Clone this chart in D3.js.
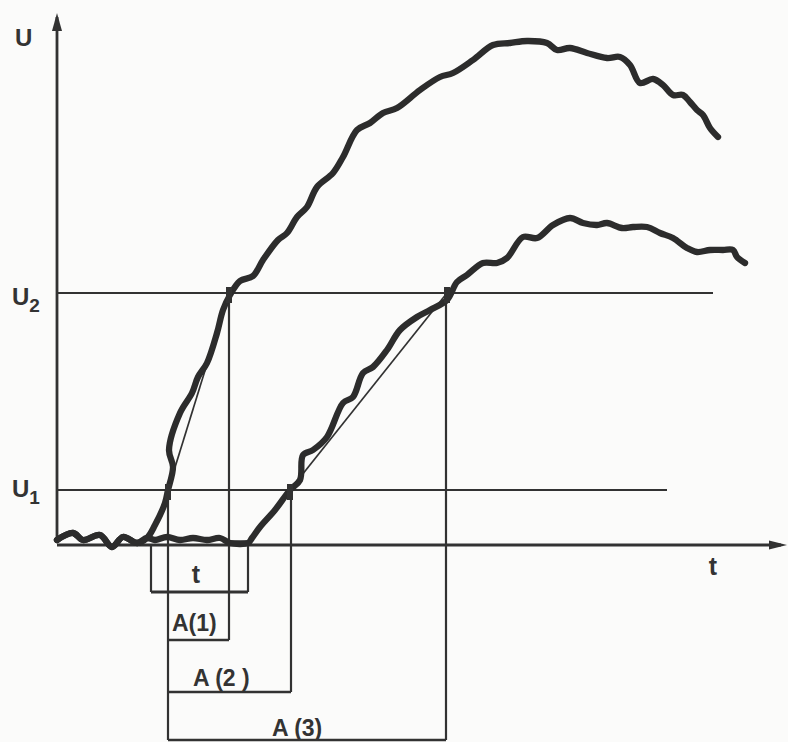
<!DOCTYPE html>
<html>
<head>
<meta charset="utf-8">
<script src="https://cdn.jsdelivr.net/npm/d3@7"></script>
<style>
  html, body { margin: 0; padding: 0; background: #fbfbfa; }
  svg { display: block; }
  text { font-family: "Liberation Sans", Arial, Helvetica, sans-serif; fill: #333; font-weight: bold; }
</style>
</head>
<body>
<svg id="chart" width="788" height="742"></svg>
<script>
// ---- data (time t, voltage U in arbitrary units) ----
const thresholdU1 = 5.5;
const thresholdU2 = 25.2;

// fast-rising response (curve 1)
const curve1T = [0.0,1.6,2.6,4.3,5.5,6.6,8.0,9.0,9.8,10.8,11.1,11.6,11.2,12.3,13.5,14.1,15.0,16.0,16.6,17.3,18.3,19.6,20.6,22.1,23.0,24.0,25.0,26.0,27.6,28.6,30.0,31.3,32.6,34.0,36.3,38.3,39.6,41.6,43.6,45.3,47.0,49.0,50.0,51.3,53.0,55.0,56.3,57.3,58.3,59.6,60.6,61.6,62.6,63.3,64.0,64.6,65.3,66.1];
const curve1U = [0.5,1.2,0.5,1.0,-0.2,0.8,0.2,0.7,2.0,4.2,5.5,7.8,9.5,13.2,15.2,16.8,18.2,21.2,23.5,25.0,26.4,26.9,28.5,30.5,31.2,32.8,33.8,35.8,37.2,38.8,41.5,42.2,43.2,43.7,45.5,46.8,47.2,48.5,50.0,50.2,50.4,50.2,49.5,49.7,49.2,48.7,48.8,48.0,46.2,46.6,46.0,45.0,45.0,44.3,43.5,43.0,41.7,40.8];

// slow-rising response (curve 2)
const curve2T = [0.0,1.6,2.6,4.3,5.5,6.6,8.0,9.0,9.8,11.0,12.3,13.6,15.0,16.3,17.3,19.1,19.5,20.3,21.8,23.3,24.3,24.6,25.6,27.0,28.6,29.6,30.6,31.6,33.0,34.3,36.0,37.3,39.0,40.0,41.0,42.6,44.0,45.0,46.6,48.0,49.6,51.3,52.6,54.0,55.0,56.5,57.6,59.0,60.3,61.6,63.0,64.0,65.3,66.6,67.6,68.0,68.8];
const curve2U = [0.5,1.2,0.5,1.0,-0.2,0.8,0.2,0.7,0.5,0.8,0.5,0.7,0.5,0.7,0.2,0.2,0.7,1.8,3.5,5.5,6.5,9.0,9.5,10.8,14.2,14.8,17.2,17.8,19.5,21.5,22.8,23.5,24.5,26.3,27.0,28.2,28.2,28.7,30.8,30.7,32.0,32.7,32.2,32.0,32.2,31.7,31.8,31.8,31.2,30.7,29.7,29.3,29.5,29.5,29.5,28.8,28.2];

// crossing times (threshold U1 / U2)
const crossT1 = [11.1, 23.3];
const crossT2 = [17.2, 39.0];
// dead time interval t
const deadTime = [9.4, 19.1];
// interval labels
const intervalLabels = ["A(1)", "A (2 )", "A (3)"];
const intervalStart = [11.1, 11.1, 11.1];
const intervalEnd = [17.2, 23.4, 38.9];
const intervalLevel = [-9.5, -14.7, -19.5];
const deadTimeLevel = -4.7;

const tMax = 73, uMax = 53;
const uLine1End = 61.0, uLine2End = 65.6;

// ---- scales ----
const x = d3.scaleLinear().domain([0, tMax]).range([57, 787]);
const y = d3.scaleLinear().domain([0, uMax]).range([545, 15]);

const svg = d3.select("#chart");
const ink = "#323232";

// threshold lines
svg.append("line").attr("x1", x(0)).attr("x2", x(uLine2End))
  .attr("y1", y(thresholdU2)).attr("y2", y(thresholdU2))
  .attr("stroke", ink).attr("stroke-width", 2.2);
svg.append("line").attr("x1", x(0)).attr("x2", x(uLine1End))
  .attr("y1", y(thresholdU1)).attr("y2", y(thresholdU1))
  .attr("stroke", ink).attr("stroke-width", 2.2);

// axes
svg.append("line").attr("x1", x(0)).attr("x2", x(0))
  .attr("y1", y(0.2)).attr("y2", y(uMax) + 2)
  .attr("stroke", ink).attr("stroke-width", 2.8);
svg.append("path")
  .attr("d", `M${x(0)},${y(uMax) - 2} L${x(0) - 5},${y(uMax) + 16} L${x(0) + 5},${y(uMax) + 16} Z`)
  .attr("fill", ink);
svg.append("line").attr("x1", x(0)).attr("x2", x(tMax) - 6)
  .attr("y1", y(0)).attr("y2", y(0))
  .attr("stroke", ink).attr("stroke-width", 2.8);
svg.append("path")
  .attr("d", `M${x(tMax)},${y(0)} L${x(tMax) - 18},${y(0) - 4.5} L${x(tMax) - 18},${y(0) + 4.5} Z`)
  .attr("fill", ink);

// vertical guide lines from crossings downwards
const guides = [
  {t: crossT1[0], u0: thresholdU1, u1: intervalLevel[2]},
  {t: crossT2[0], u0: thresholdU2, u1: intervalLevel[0]},
  {t: intervalEnd[1], u0: thresholdU1, u1: intervalLevel[1]},
  {t: intervalEnd[2], u0: thresholdU2, u1: intervalLevel[2]},
  {t: deadTime[0], u0: 0, u1: deadTimeLevel},
  {t: deadTime[1], u0: 0, u1: deadTimeLevel}
];
svg.selectAll("line.guide").data(guides).join("line").attr("class", "guide")
  .attr("x1", d => x(d.t)).attr("x2", d => x(d.t))
  .attr("y1", d => y(d.u0)).attr("y2", d => y(d.u1))
  .attr("stroke", ink).attr("stroke-width", 2.2);

// horizontal bottoms of the interval boxes
svg.selectAll("line.ibar").data(intervalLabels.map((l, i) => ({i}))).join("line").attr("class", "ibar")
  .attr("x1", d => x(intervalStart[d.i])).attr("x2", d => x(intervalEnd[d.i]))
  .attr("y1", d => y(intervalLevel[d.i])).attr("y2", d => y(intervalLevel[d.i]))
  .attr("stroke", ink).attr("stroke-width", 2.6);
svg.append("line")
  .attr("x1", x(deadTime[0])).attr("x2", x(deadTime[1]))
  .attr("y1", y(deadTimeLevel)).attr("y2", y(deadTimeLevel))
  .attr("stroke", ink).attr("stroke-width", 2.8);

// secant lines U1 -> U2
[0, 1].forEach(i => {
  svg.append("line")
    .attr("x1", x(crossT1[i])).attr("y1", y(thresholdU1))
    .attr("x2", x(crossT2[i])).attr("y2", y(thresholdU2))
    .attr("stroke", ink).attr("stroke-width", 1.7);
});

// curves
const line = d3.line().x(d => x(d[0])).y(d => y(d[1])).curve(d3.curveCatmullRom.alpha(0.5));
const c1 = curve1T.map((t, i) => [t, curve1U[i]]);
const c2 = curve2T.map((t, i) => [t, curve2U[i]]);
[c2, c1].forEach(c => {
  svg.append("path").datum(c).attr("d", line)
    .attr("fill", "none").attr("stroke", "#2c2c2c")
    .attr("stroke-width", 6.3).attr("stroke-linejoin", "round").attr("stroke-linecap", "round");
});
// flat segment before slow rise
svg.append("line").attr("x1", x(17.3)).attr("x2", x(19.3))
  .attr("y1", y(0.2)).attr("y2", y(0.2)).attr("stroke", "#2c2c2c").attr("stroke-width", 5.5);

// crossing markers
const marks = [
  {t: crossT1[0], u: thresholdU1}, {t: crossT2[0], u: thresholdU2},
  {t: crossT1[1], u: thresholdU1}, {t: crossT2[1], u: thresholdU2}
];
svg.selectAll("rect.mark").data(marks).join("rect").attr("class", "mark")
  .attr("x", d => x(d.t) - 3).attr("y", d => y(d.u) - 6)
  .attr("width", 6).attr("height", 16).attr("fill", ink);

// labels
svg.append("text").attr("x", 15).attr("y", 46).attr("font-size", 24).text("U");
const u2 = svg.append("text").attr("x", 12).attr("y", y(thresholdU2) + 12).attr("font-size", 24);
u2.append("tspan").text("U");
u2.append("tspan").attr("dy", 7).attr("font-size", 19).text("2");
const u1 = svg.append("text").attr("x", 12).attr("y", y(thresholdU1) + 7).attr("font-size", 24);
u1.append("tspan").text("U");
u1.append("tspan").attr("dy", 7).attr("font-size", 19).text("1");

svg.append("text").attr("x", x(65.6)).attr("y", y(-3.0)).attr("font-size", 25)
  .attr("text-anchor", "middle").text("t");
svg.append("text").attr("x", x(13.9)).attr("y", y(-3.8)).attr("font-size", 25)
  .attr("text-anchor", "middle").text("t");

const labelPos = [[11.5, -8.6], [13.6, -14.1], [21.5, -19.1]];
svg.selectAll("text.alabel").data(intervalLabels).join("text").attr("class", "alabel")
  .attr("x", (d, i) => x(labelPos[i][0])).attr("y", (d, i) => y(labelPos[i][1]))
  .attr("font-size", 23).text(d => d);
</script>
</body>
</html>
